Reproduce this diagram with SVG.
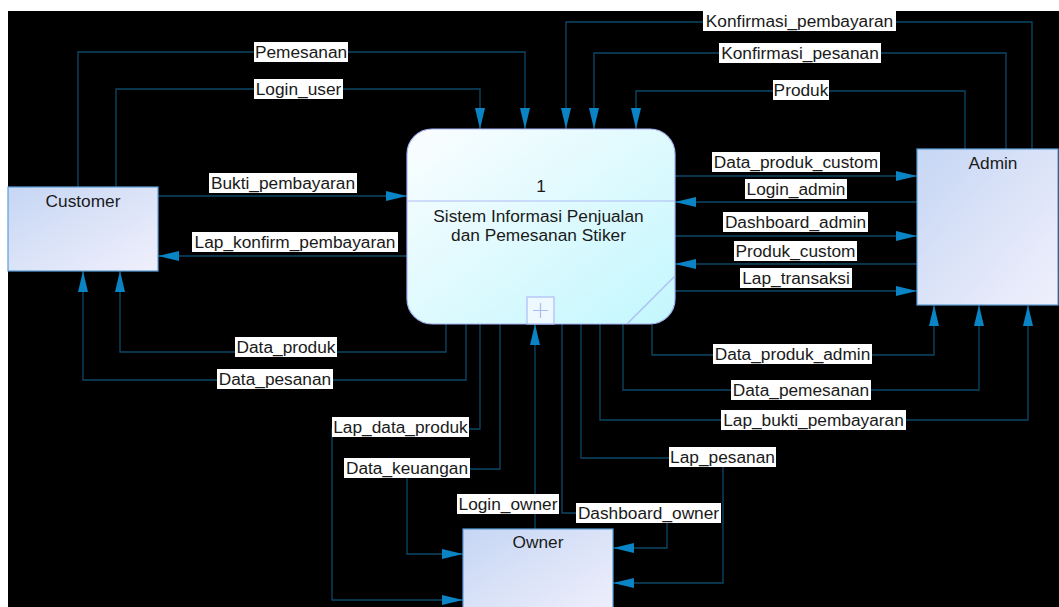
<svg xmlns="http://www.w3.org/2000/svg" width="1059" height="607" viewBox="0 0 1059 607">
  <defs>
    <linearGradient id="entityFill" x1="0" y1="0" x2="1" y2="1">
      <stop offset="0" stop-color="#c6d6f4"/>
      <stop offset="1" stop-color="#f0f0fc"/>
    </linearGradient>
    <linearGradient id="processFill" x1="0" y1="0" x2="1" y2="1">
      <stop offset="0" stop-color="#fbfdff"/>
      <stop offset="1" stop-color="#c2f7fd"/>
    </linearGradient>
    <marker id="arrow" markerUnits="userSpaceOnUse" markerWidth="21" markerHeight="10" refX="21" refY="5" orient="auto">
      <path d="M0,0 L21,5 L0,10 z" fill="#0a84c4"/>
    </marker>
    <style>
      .flow { fill: none; stroke: #0d4867; stroke-width: 1.3; marker-end: url(#arrow); }
      .lbl rect { fill: #ffffff; }
      .lbl text, .node text { font-family: "Liberation Sans", Arial, sans-serif; font-size: 17.3px; fill: #1a1a1a; text-anchor: middle; }
      .entity { fill: url(#entityFill); stroke: #5c9fd8; stroke-width: 1.2; }
      .process { fill: url(#processFill); stroke: #a6b4f2; stroke-width: 1.2; }
      .pline { stroke: #aebcf6; stroke-width: 1.2; fill: none; }
    </style>
  </defs>

  <rect x="0" y="0" width="1059" height="607" fill="#ffffff"/>
  <rect x="8" y="11" width="1051" height="596" fill="#000000"/>

  <!-- data flows -->
  <g id="connectors">
    <path class="flow" d="M78,187 V52 H525 V129"/>
    <path class="flow" d="M116,187 V89 H480 V129"/>
    <path class="flow" d="M1032,149 V22 H566 V129"/>
    <path class="flow" d="M1006,149 V53 H594 V129"/>
    <path class="flow" d="M965,149 V91 H636 V129"/>
    <path class="flow" d="M158,196 H407"/>
    <path class="flow" d="M407,256 H158"/>
    <path class="flow" d="M446,320 V352 H120 V271"/>
    <path class="flow" d="M466,320 V380 H83 V271"/>
    <path class="flow" d="M675,176 H917"/>
    <path class="flow" d="M917,202 H675"/>
    <path class="flow" d="M675,236 H917"/>
    <path class="flow" d="M917,264 H675"/>
    <path class="flow" d="M675,291 H917"/>
    <path class="flow" d="M652,320 V355 H934 V305"/>
    <path class="flow" d="M623,320 V390 H979 V305"/>
    <path class="flow" d="M600,320 V420 H1028 V305"/>
    <path class="flow" d="M581,320 V458 H723 V583 H613"/>
    <path class="flow" d="M562,320 V513 H667 V548 H613"/>
    <path class="flow" d="M535,529 V324"/>
    <path class="flow" d="M480,320 V429 H332 V600 H463"/>
    <path class="flow" d="M500,320 V469 H407 V554 H463"/>
  </g>

  <!-- flow labels -->
  <g id="labels">
    <g class="lbl"><rect x="254" y="42" width="94" height="20"/><text x="301" y="58">Pemesanan</text></g>
    <g class="lbl"><rect x="254" y="79" width="89" height="20"/><text x="298.5" y="95">Login_user</text></g>
    <g class="lbl"><rect x="703" y="11" width="193" height="20"/><text x="799.5" y="27">Konfirmasi_pembayaran</text></g>
    <g class="lbl"><rect x="719" y="43" width="162" height="20"/><text x="800" y="59">Konfirmasi_pesanan</text></g>
    <g class="lbl"><rect x="773" y="80" width="56" height="20"/><text x="801" y="96">Produk</text></g>
    <g class="lbl"><rect x="209" y="173" width="148" height="20"/><text x="283" y="189">Bukti_pembayaran</text></g>
    <g class="lbl"><rect x="192" y="232" width="206" height="20"/><text x="295" y="248">Lap_konfirm_pembayaran</text></g>
    <g class="lbl"><rect x="235" y="337" width="102" height="20"/><text x="286" y="353">Data_produk</text></g>
    <g class="lbl"><rect x="217" y="369" width="116" height="20"/><text x="275" y="385">Data_pesanan</text></g>
    <g class="lbl"><rect x="712" y="152" width="168" height="20"/><text x="796" y="168">Data_produk_custom</text></g>
    <g class="lbl"><rect x="745" y="179" width="102" height="20"/><text x="796" y="195">Login_admin</text></g>
    <g class="lbl"><rect x="723" y="212" width="145" height="20"/><text x="795.5" y="228">Dashboard_admin</text></g>
    <g class="lbl"><rect x="734" y="241" width="123" height="20"/><text x="795.5" y="257">Produk_custom</text></g>
    <g class="lbl"><rect x="740" y="268" width="112" height="20"/><text x="796" y="284">Lap_transaksi</text></g>
    <g class="lbl"><rect x="713" y="344" width="159" height="20"/><text x="792.5" y="360">Data_produk_admin</text></g>
    <g class="lbl"><rect x="731" y="380" width="140" height="20"/><text x="801" y="396">Data_pemesanan</text></g>
    <g class="lbl"><rect x="721" y="410" width="185" height="20"/><text x="813.5" y="426">Lap_bukti_pembayaran</text></g>
    <g class="lbl"><rect x="669" y="447" width="107" height="20"/><text x="722.5" y="463">Lap_pesanan</text></g>
    <g class="lbl"><rect x="332" y="417" width="137" height="20"/><text x="400.5" y="433">Lap_data_produk</text></g>
    <g class="lbl"><rect x="344" y="458" width="126" height="20"/><text x="407" y="474">Data_keuangan</text></g>
    <g class="lbl"><rect x="457" y="494" width="102" height="20"/><text x="508" y="510">Login_owner</text></g>
    <g class="lbl"><rect x="576" y="503" width="145" height="20"/><text x="648.5" y="519">Dashboard_owner</text></g>
  </g>

  <!-- external entities and process -->
  <g id="customer" class="node">
    <rect class="entity" x="8" y="187" width="150" height="84"/>
    <text x="83" y="207">Customer</text>
  </g>
  <g id="admin" class="node">
    <rect class="entity" x="917" y="149" width="141" height="156"/>
    <text x="993" y="169">Admin</text>
  </g>
  <g id="owner" class="node">
    <rect class="entity" x="463" y="529" width="150" height="90"/>
    <text x="538" y="548">Owner</text>
  </g>
  <g id="process1" class="node">
    <rect class="process" x="407" y="129" width="268" height="195" rx="25" ry="25"/>
    <line class="pline" x1="407" y1="201" x2="675" y2="201"/>
    <line class="pline" x1="627" y1="324" x2="675" y2="276"/>
    <rect x="527" y="297" width="27" height="27" fill="#eef8ff" stroke="#aebcf6" stroke-width="1.2"/>
    <path class="pline" d="M533,310.5 H548 M540.5,303 V318"/>
    <text x="541" y="192">1</text>
    <text x="538.5" y="222">Sistem Informasi Penjualan</text>
    <text x="538.5" y="241">dan Pemesanan Stiker</text>
  </g>
</svg>
